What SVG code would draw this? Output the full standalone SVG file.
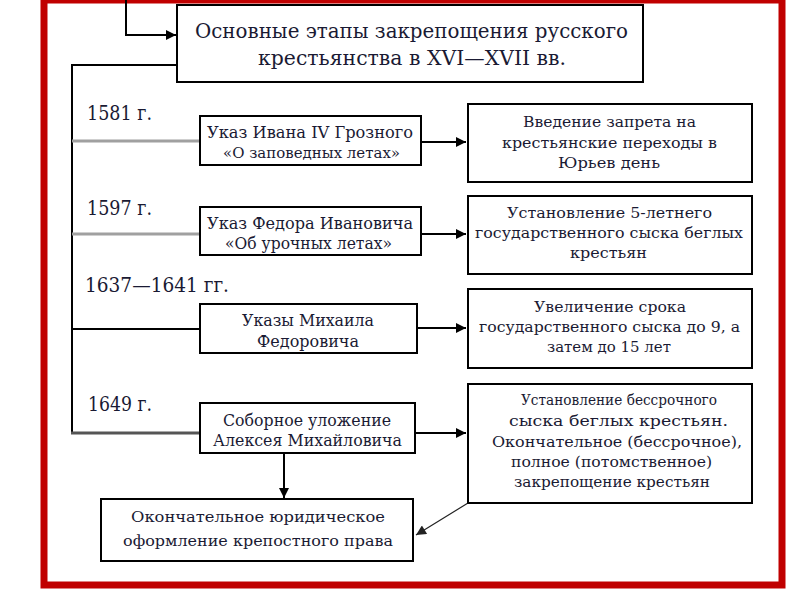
<svg xmlns="http://www.w3.org/2000/svg" width="800" height="600" viewBox="0 0 800 600">
<style>
.box{fill:#fff;stroke:#000;stroke-width:2}
.t{font-family:'DejaVu Serif','Liberation Serif','Times New Roman',serif;fill:#1a1a33}
.big{font-size:20px}
.mid{font-size:16px}
.sm{font-size:15px}
.c{fill:none;stroke:#000;stroke-width:2}
</style>
<defs>
<marker id="ah" viewBox="0 0 10 10" refX="10" refY="5" markerWidth="12" markerHeight="10" markerUnits="userSpaceOnUse" orient="auto">
<path d="M0,0 L10,5 L0,10 z" fill="#000"/>
</marker>
<marker id="ah2" viewBox="0 0 10 10" refX="10" refY="5" markerWidth="12" markerHeight="10" markerUnits="userSpaceOnUse" orient="auto">
<path d="M0,0 L10,5 L0,10 z" fill="#222"/>
</marker>
</defs>
<rect x="0" y="0" width="800" height="600" fill="#fff"/>
<rect x="44" y="0" width="738" height="585" fill="none" stroke="#c00000" stroke-width="7"/>

<g id="connectors">
<path class="c" d="M126,0 V35 H176" marker-end="url(#ah)"/>
<path class="c" d="M177,65 H72 V433"/>
<line x1="72" y1="141" x2="200" y2="141" stroke="#a0a0a0" stroke-width="3"/>
<line x1="72" y1="234" x2="200" y2="234" stroke="#a0a0a0" stroke-width="3"/>
<line x1="72" y1="329" x2="200" y2="329" stroke="#000" stroke-width="2"/>
<line x1="71" y1="433" x2="200" y2="433" stroke="#555" stroke-width="3"/>
<line class="c" x1="421" y1="142" x2="466" y2="142" marker-end="url(#ah)"/>
<line class="c" x1="421" y1="234" x2="466" y2="234" marker-end="url(#ah)"/>
<line class="c" x1="417" y1="328" x2="466" y2="328" marker-end="url(#ah)"/>
<line class="c" x1="415" y1="433" x2="466" y2="433" marker-end="url(#ah)"/>
<line class="c" x1="284" y1="453" x2="284" y2="498" marker-end="url(#ah)"/>
<line x1="468" y1="503" x2="416" y2="535" stroke="#222" stroke-width="1.2" marker-end="url(#ah2)"/>
</g>

<g id="title">
<rect class="box" x="177" y="5" width="466" height="77"/>
<text class="t big" x="195" y="38" textLength="433" lengthAdjust="spacingAndGlyphs">Основные этапы закрепощения русского</text>
<text class="t big" x="258" y="65" textLength="308" lengthAdjust="spacingAndGlyphs">крестьянства в XVI—XVII вв.</text>
</g>

<g id="years">
<text class="t big" x="87" y="120" textLength="65" lengthAdjust="spacingAndGlyphs">1581 г.</text>
<text class="t big" x="87" y="215" textLength="65" lengthAdjust="spacingAndGlyphs">1597 г.</text>
<text class="t big" x="85" y="292" textLength="144" lengthAdjust="spacingAndGlyphs">1637—1641 гг.</text>
<text class="t big" x="88" y="411" textLength="64" lengthAdjust="spacingAndGlyphs">1649 г.</text>
</g>

<g id="ukaz1">
<rect class="box" x="200" y="116" width="221" height="49"/>
<text class="t mid" x="207" y="138" textLength="206" lengthAdjust="spacingAndGlyphs">Указ Ивана IV Грозного</text>
<text class="t sm" x="223" y="158" textLength="177" lengthAdjust="spacingAndGlyphs">«О заповедных летах»</text>
</g>

<g id="ukaz2">
<rect class="box" x="200" y="207" width="221" height="48"/>
<text class="t mid" x="207" y="229" textLength="206" lengthAdjust="spacingAndGlyphs">Указ Федора Ивановича</text>
<text class="t mid" x="225" y="249" textLength="167" lengthAdjust="spacingAndGlyphs">«Об урочных летах»</text>
</g>

<g id="ukaz3">
<rect class="box" x="200" y="304" width="217" height="49"/>
<text class="t mid" x="242" y="326" textLength="132" lengthAdjust="spacingAndGlyphs">Указы Михаила</text>
<text class="t mid" x="257" y="347" textLength="102" lengthAdjust="spacingAndGlyphs">Федоровича</text>
</g>

<g id="ulozhenie">
<rect class="box" x="200" y="403" width="215" height="50"/>
<text class="t mid" x="223" y="426" textLength="168" lengthAdjust="spacingAndGlyphs">Соборное уложение</text>
<text class="t mid" x="213" y="446" textLength="189" lengthAdjust="spacingAndGlyphs">Алексея Михайловича</text>
</g>

<g id="res1">
<rect class="box" x="468" y="104" width="284" height="78"/>
<text class="t sm" x="523" y="127" textLength="173" lengthAdjust="spacingAndGlyphs">Введение запрета на</text>
<text class="t sm" x="502" y="148" textLength="215" lengthAdjust="spacingAndGlyphs">крестьянские переходы в</text>
<text class="t sm" x="558" y="168" textLength="102" lengthAdjust="spacingAndGlyphs">Юрьев день</text>
</g>

<g id="res2">
<rect class="box" x="468" y="196" width="284" height="78"/>
<text class="t sm" x="507" y="218" textLength="205" lengthAdjust="spacingAndGlyphs">Установление 5-летнего</text>
<text class="t sm" x="475" y="238" textLength="268" lengthAdjust="spacingAndGlyphs">государственного сыска беглых</text>
<text class="t sm" x="570" y="258" textLength="77" lengthAdjust="spacingAndGlyphs">крестьян</text>
</g>

<g id="res3">
<rect class="box" x="468" y="289" width="284" height="79"/>
<text class="t sm" x="534" y="312" textLength="152" lengthAdjust="spacingAndGlyphs">Увеличение срока</text>
<text class="t sm" x="479" y="332" textLength="261" lengthAdjust="spacingAndGlyphs">государственного сыска до 9, а</text>
<text class="t sm" x="547" y="352" textLength="124" lengthAdjust="spacingAndGlyphs">затем до 15 лет</text>
</g>

<g id="res4">
<rect class="box" x="468" y="384" width="284" height="119"/>
<text class="t sm" x="521" y="405" textLength="196" lengthAdjust="spacingAndGlyphs">Установление бессрочного</text>
<text class="t sm" x="509" y="426" textLength="219" lengthAdjust="spacingAndGlyphs">сыска беглых крестьян.</text>
<text class="t sm" x="492" y="447" textLength="250" lengthAdjust="spacingAndGlyphs">Окончательное (бессрочное),</text>
<text class="t sm" x="511" y="467" textLength="201" lengthAdjust="spacingAndGlyphs">полное (потомственное)</text>
<text class="t sm" x="514" y="487" textLength="196" lengthAdjust="spacingAndGlyphs">закрепощение крестьян</text>
</g>

<g id="final">
<rect class="box" x="101" y="499" width="312" height="62"/>
<text class="t sm" x="131" y="522" textLength="254" lengthAdjust="spacingAndGlyphs">Окончательное юридическое</text>
<text class="t sm" x="123" y="546" textLength="270" lengthAdjust="spacingAndGlyphs">оформление крепостного права</text>
</g>
</svg>
